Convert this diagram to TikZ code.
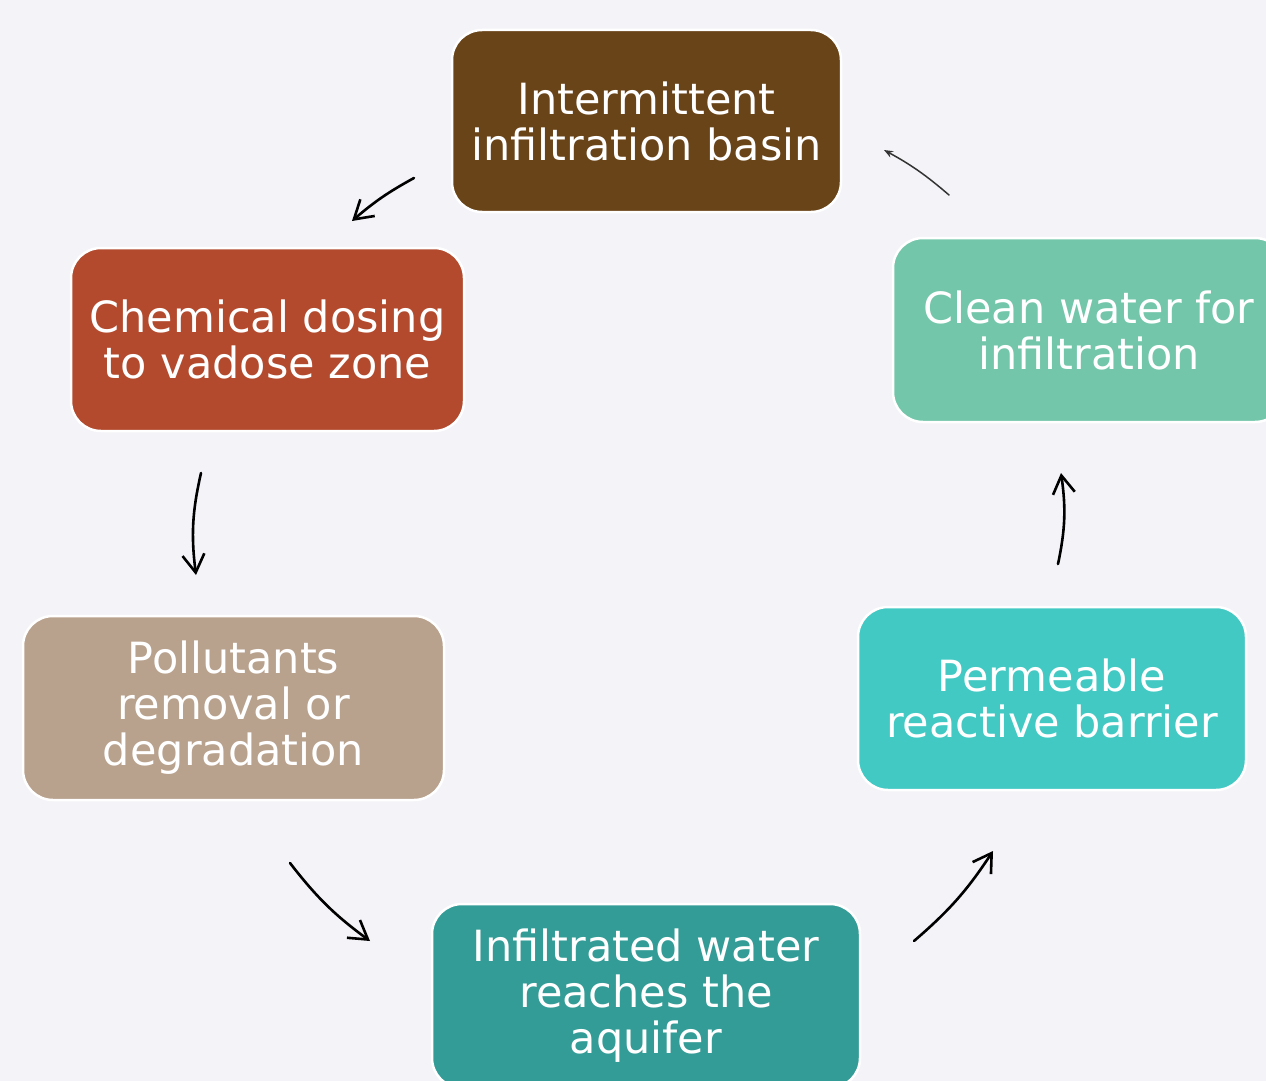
\documentclass[tikz,border=0pt]{standalone}
\usepackage{fontspec}
\setmainfont{DejaVu Sans}
\usetikzlibrary{arrows.meta}
\definecolor{bgc}{HTML}{F4F3F8}
\definecolor{cbrown}{HTML}{6A4419}
\definecolor{crust}{HTML}{B34A2E}
\definecolor{ctan}{HTML}{B8A18D}
\definecolor{cteal}{HTML}{349C97}
\definecolor{ccyan}{HTML}{43C9C4}
\definecolor{cmint}{HTML}{73C6AA}
\definecolor{cdark}{HTML}{333333}
\tikzset{
  stage/.style={draw=white, line width=2.5pt, rounded corners=30pt, text=white,
    align=center, inner sep=0pt, font=\fontsize{43}{46}\selectfont},
  flow/.style={line width=2.6pt, line cap=round, -{Straight Barb[length=18pt,width=22pt,line width=2.6pt]}},
  thinflow/.style={cdark, line width=1.5pt, line cap=round, -{Stealth[length=9pt,width=7pt]}}
}
\begin{document}
\begin{tikzpicture}[x=1pt,y=-1pt]
\useasboundingbox (0,0) rectangle (1266,1081);
\clip (0,0) rectangle (1266,1081);
\fill[bgc] (0,0) rectangle (1266,1081);

\node[stage, fill=cbrown, minimum width=389pt, minimum height=182pt] (basin) at (646.5,121) {Intermittent\\infiltration basin};
\node[stage, fill=crust, minimum width=393pt, minimum height=183pt] (dosing) at (267.5,339.5) {Chemical dosing\\to vadose zone};
\node[stage, fill=ctan, minimum width=421pt, minimum height=184pt] (removal) at (233.5,708) {Pollutants\\removal or\\degradation};
\node[stage, fill=cteal, minimum width=428pt, minimum height=184pt] (aquifer) at (646,996) {Infiltrated water\\reaches the\\aquifer};
\node[stage, fill=ccyan, minimum width=388pt, minimum height=183pt] (barrier) at (1052,698.5) {Permeable\\reactive barrier};
\node[stage, fill=cmint, minimum width=392pt, minimum height=184pt] (clean) at (1089,330) {Clean water for\\infiltration};

\coordinate (a1s) at (414,178); \coordinate (a1e) at (352,221);
\coordinate (a2s) at (201,473); \coordinate (a2e) at (196,575);
\coordinate (a3s) at (290,863); \coordinate (a3e) at (370,941);
\coordinate (a4s) at (914,941); \coordinate (a4e) at (993,851);
\coordinate (a5s) at (1058,564); \coordinate (a5e) at (1061,473);
\coordinate (a6s) at (949,195); \coordinate (a6e) at (884,150);

\draw[flow] (a1s) to[bend right=6] (a1e);
\draw[flow] (a2s) to[bend right=10] (a2e);
\draw[flow] (a3s) to[bend right=8] (a3e);
\draw[flow] (a4s) to[bend right=8] (a4e);
\draw[flow] (a5s) to[bend right=10] (a5e);
\draw[thinflow] (a6s) to[bend right=6] (a6e);
\end{tikzpicture}
\end{document}
